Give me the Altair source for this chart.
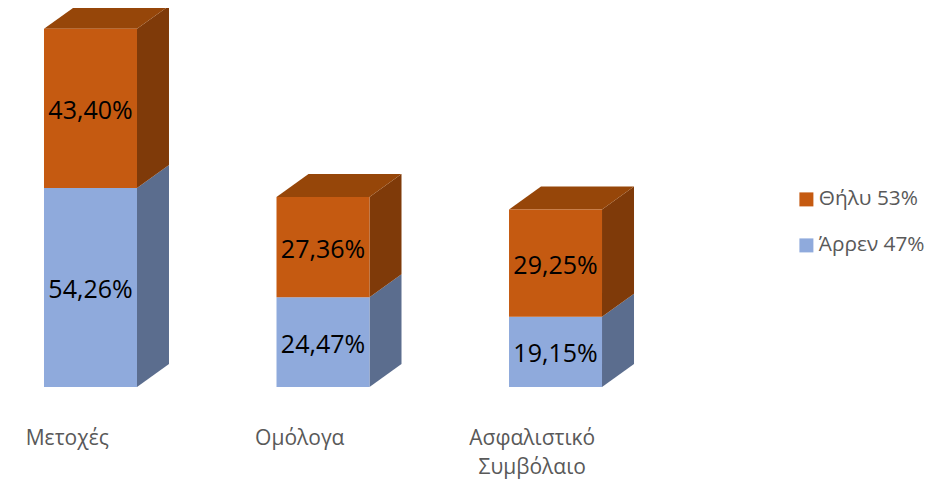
import altair as alt
import pandas as pd

categories = ["Μετοχές", "Ομόλογα", "Ασφαλιστικό Συμβόλαιο"]
male = [54.26, 24.47, 19.15]
female = [43.40, 27.36, 29.25]
labels_male = ["54,26%", "24,47%", "19,15%"]
labels_female = ["43,40%", "27,36%", "29,25%"]
series_names = ["Θήλυ 53%", "Άρρεν 47%"]
series_colors = ["#C55A11", "#8FAADC"]
side_colors = ["#7F3A09", "#5B6D8E"]
top_color = "#964609"
category_lines = [["Μετοχές"], ["Ομόλογα"], ["Ασφαλιστικό", "Συμβόλαιο"]]

HALF = 0.2
DX = 0.1376
DY = 6.27

front, faces, texts, cats = [], [], [], []
for i, cat in enumerate(categories):
    segs = [
        (series_names[1], series_colors[1], side_colors[1], 0, male[i], labels_male[i]),
        (series_names[0], series_colors[0], side_colors[0], male[i], male[i] + female[i], labels_female[i]),
    ]
    for name, col, side, lo, hi, lab in segs:
        front.append(dict(x=i - HALF, x2=i + HALF, y=lo, y2=hi, series=name))
        texts.append(dict(x=i, y=(lo + hi) / 2, label=lab))
        key = f"{i}-{name}-side"
        faces.append(dict(face=key, shade=side, x=i + HALF, y=lo, y2=hi))
        faces.append(dict(face=key, shade=side, x=i + HALF + DX, y=lo + DY, y2=hi + DY))
    top = male[i] + female[i]
    key = f"{i}-top"
    faces.append(dict(face=key, shade=top_color, x=i - HALF, y=top, y2=top))
    faces.append(dict(face=key, shade=top_color, x=i - HALF + DX, y=top, y2=top + DY))
    faces.append(dict(face=key, shade=top_color, x=i + HALF, y=top, y2=top + DY))
    faces.append(dict(face=key, shade=top_color, x=i + HALF + DX, y=top + DY, y2=top + DY))
    cats.append(dict(x=i - 0.1, y=-11.2, text=category_lines[i]))

xs = alt.Scale(domain=[-0.3548, 3.645], nice=False, zero=False)
ys = alt.Scale(domain=[-25.09, 103.35], nice=False, zero=False)
X = alt.X("x:Q", scale=xs, axis=None)
Y = alt.Y("y:Q", scale=ys, axis=None)

areas = alt.Chart(pd.DataFrame(faces)).mark_area(opacity=1, interpolate="linear").encode(
    x=X, y=Y, y2="y2:Q", detail="face:N",
    color=alt.Color("shade:N", scale=None, legend=None),
)

bars = alt.Chart(pd.DataFrame(front)).mark_bar(opacity=1).encode(
    x=X, x2="x2:Q", y=Y, y2="y2:Q",
    color=alt.Color(
        "series:N",
        scale=alt.Scale(domain=series_names, range=series_colors),
        legend=alt.Legend(
            title=None, orient="none", legendX=788, legendY=181,
            symbolType="square", symbolSize=196, symbolStrokeWidth=0,
            labelFont="Open Sans", labelFontSize=20.8, labelColor="#595959",
            rowPadding=24, labelOffset=2,
        ),
    ),
)

values = alt.Chart(pd.DataFrame(texts)).mark_text(
    font="Open Sans", fontSize=25, color="#000000", dy=2.5
).encode(x=X, y=Y, text="label:N")

cat_text = alt.Chart(pd.DataFrame(cats)).mark_text(
    font="Open Sans", fontSize=21, color="#595959", lineHeight=29, baseline="top"
).encode(x=X, y=Y, text="text:N")

chart = alt.layer(areas, bars, values, cat_text).resolve_scale(color="independent").properties(
    width=930, height=471, padding=0, background="#FFFFFF",
    autosize=alt.AutoSizeParams(type="none"),
).configure_view(stroke=None)

chart.save("out.html", embed_options={"renderer": "svg", "actions": False})
